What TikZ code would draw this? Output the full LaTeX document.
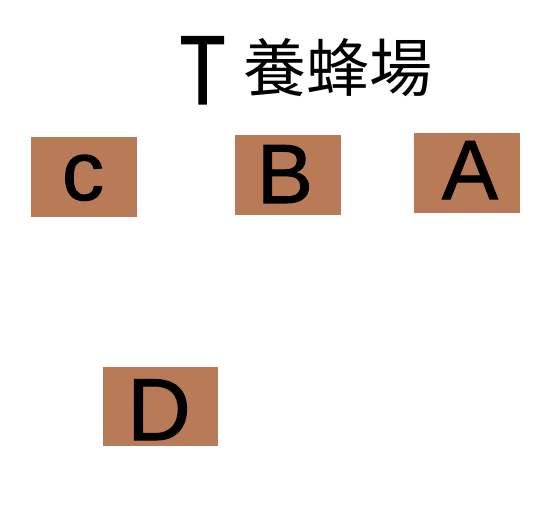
\documentclass[tikz,border=0pt]{standalone}
\usepackage{fontspec}
\setmainfont{Liberation Sans}
\newfontfamily\boldish[FakeBold=1.2]{Liberation Sans}
\newfontfamily\cjk{Noto Sans CJK JP}
\newfontfamily\cjkT[FakeBold=1.5]{Noto Sans CJK JP}
\definecolor{boxbrown}{RGB}{185,122,87}
\begin{document}
\begin{tikzpicture}[x=1pt,y=-1pt,
  boxnode/.style={fill=boxbrown, draw=none, inner sep=0pt, minimum width=106pt, minimum height=80pt},
  lettertext/.style={inner sep=0pt, anchor=base, font=\boldish\fontsize{84}{84}\selectfont},
  titletext/.style={inner sep=0pt, anchor=base west}]
\useasboundingbox (0,0) rectangle (559,513);
\fill[white] (0,0) rectangle (559,513);
% title
\node[titletext, font=\cjkT\fontsize{92}{92}\selectfont, xscale=0.85] (tt) at (179,104) {T};
\node[titletext, font=\cjk\fontsize{63}{63}\selectfont] (tj) at (243,92) {養蜂場};
% boxes
\node[boxnode] (bc) at (84,177) {};
\node[boxnode] (bb) at (288,175) {};
\node[boxnode] (ba) at (467,173) {};
\node[boxnode, minimum width=115pt, minimum height=79pt] (bd) at (160.5,406.5) {};
% letters
\node[lettertext] (lc) at (83,200) {c};
\node[lettertext] (lb) at (285,203) {B};
\node[lettertext] (la) at (470,199) {A};
\node[lettertext, font=\boldish\fontsize{88}{88}\selectfont] (ld) at (159,440) {D};
\end{tikzpicture}
\end{document}
